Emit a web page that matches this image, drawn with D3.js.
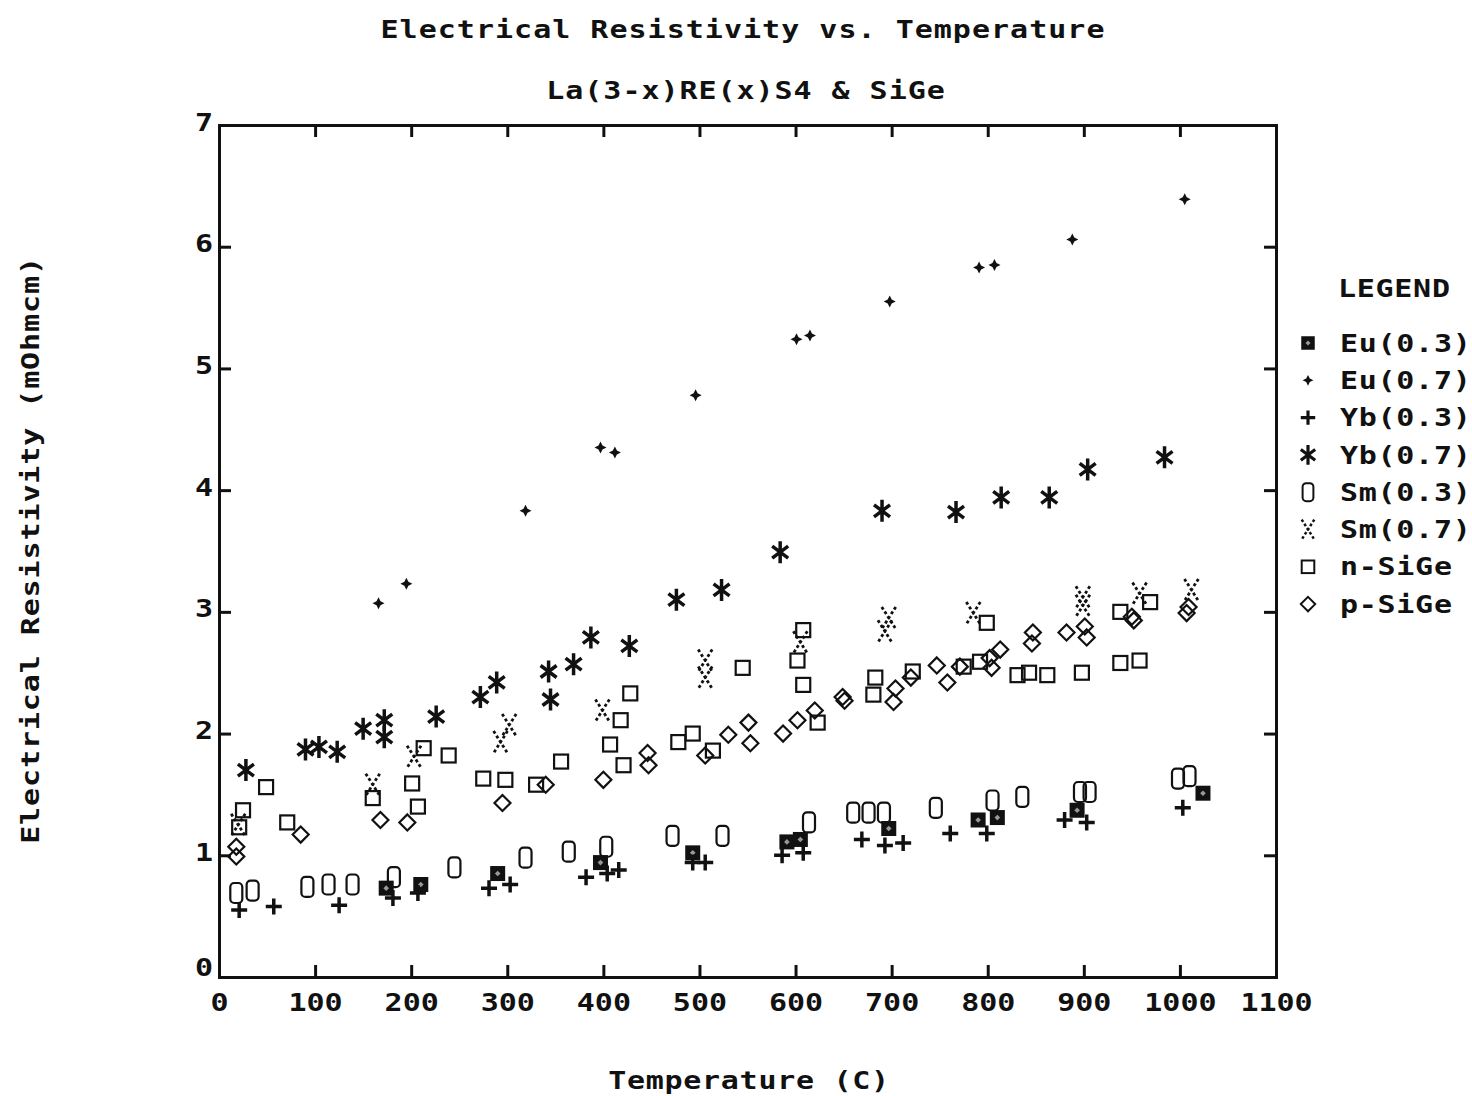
<!DOCTYPE html>
<html>
<head>
<meta charset="utf-8">
<script src="https://cdn.jsdelivr.net/npm/d3@7"></script>
<style>
  body { margin: 0; background: #fff; }
  text { font-family: "DejaVu Sans Mono", monospace; font-weight: bold; fill: #111; }
</style>
</head>
<body>
<div id="container"></div>
<script>
// readings: [temperature C, resistivity mOhm cm]
const eu03 = [[174,0.73],[210,0.76],[290,0.85],[397,0.94],[493,1.02],[591,1.11],[605,1.13],[697,1.22],[790,1.29],[810,1.31],[893,1.37],[1024,1.51]];
const eu07 = [[166,3.07],[195,3.23],[319,3.83],[397,4.35],[412,4.31],[496,4.78],[601,5.24],[615,5.27],[698,5.55],[791,5.83],[807,5.85],[888,6.06],[1005,6.39]];
const yb03 = [[21,0.55],[57,0.58],[125,0.59],[181,0.65],[207,0.69],[281,0.73],[303,0.76],[382,0.82],[404,0.85],[416,0.88],[493,0.94],[506,0.94],[586,1.00],[608,1.02],[669,1.13],[693,1.08],[712,1.10],[761,1.18],[799,1.18],[880,1.29],[903,1.27],[1003,1.39]];
const yb07 = [[28,1.70],[90,1.87],[104,1.89],[123,1.85],[150,2.04],[172,2.11],[172,1.97],[226,2.14],[272,2.30],[289,2.42],[343,2.51],[345,2.28],[369,2.57],[387,2.79],[427,2.72],[476,3.10],[523,3.18],[584,3.49],[690,3.83],[767,3.82],[814,3.94],[864,3.94],[904,4.17],[984,4.27]];
const sm03 = [[18,0.69],[35,0.71],[92,0.74],[114,0.76],[139,0.76],[182,0.82],[245,0.90],[319,0.98],[364,1.03],[403,1.07],[472,1.16],[524,1.16],[614,1.27],[660,1.35],[676,1.35],[692,1.35],[746,1.39],[805,1.45],[836,1.48],[896,1.52],[906,1.52],[998,1.63],[1010,1.65]];
const sm07 = [[20,1.25],[160,1.58],[203,1.81],[293,1.93],[302,2.07],[399,2.19],[506,2.60],[506,2.46],[605,2.75],[693,2.84],[697,2.95],[785,2.99],[899,3.12],[899,3.05],[958,3.15],[1012,3.18]];
const nSiGe = [[25,1.37],[21,1.23],[49,1.56],[71,1.27],[160,1.47],[201,1.59],[207,1.40],[213,1.88],[239,1.82],[275,1.63],[298,1.62],[330,1.58],[356,1.77],[407,1.91],[418,2.11],[428,2.33],[421,1.74],[478,1.93],[493,2.00],[514,1.86],[545,2.54],[602,2.60],[608,2.85],[608,2.40],[623,2.09],[681,2.32],[683,2.46],[722,2.51],[775,2.55],[792,2.59],[799,2.91],[831,2.48],[843,2.50],[862,2.48],[898,2.50],[938,2.58],[958,2.60],[938,3.00],[969,3.08]];
const pSiGe = [[18,1.07],[18,0.99],[85,1.17],[168,1.29],[196,1.27],[295,1.43],[340,1.58],[400,1.62],[446,1.84],[447,1.74],[506,1.82],[530,1.99],[551,2.09],[553,1.92],[587,2.00],[602,2.11],[620,2.19],[649,2.30],[651,2.27],[702,2.26],[704,2.37],[720,2.46],[747,2.56],[758,2.42],[771,2.55],[802,2.62],[804,2.54],[813,2.69],[846,2.74],[847,2.83],[882,2.83],[901,2.88],[903,2.79],[950,2.96],[952,2.93],[1007,2.99],[1009,3.04]];

const legendNames = ["Eu(0.3)", "Eu(0.7)", "Yb(0.3)", "Yb(0.7)", "Sm(0.3)", "Sm(0.7)", "n-SiGe", "p-SiGe"];
const xTicks = [0,100,200,300,400,500,600,700,800,900,1000,1100];
const yTicks = [0,1,2,3,4,5,6,7];

const w = 1472, h = 1096;
const x = d3.scaleLinear().domain([0, 1100]).range([219, 1276]);
const y = d3.scaleLinear().domain([0, 7]).range([977, 125]);

const svg = d3.select("#container").append("svg")
  .attr("width", w).attr("height", h)
  .style("background", "#fff");

const ink = "#111";
const wide = "scale(1.2,1)"; // plotter font is wider than DejaVu

// marker drawers, each appends into a g centred at 0,0
const markers = {
  "Eu(0.3)": g => {
    g.append("rect").attr("x", -7.5).attr("y", -7.5).attr("width", 15).attr("height", 15).attr("fill", ink);
    g.append("rect").attr("x", -2).attr("y", -2).attr("width", 4).attr("height", 4).attr("fill", "#999").attr("transform", "rotate(45)");
  },
  "Eu(0.7)": g => {
    g.append("path").attr("d", "M0,-6L2,-2L6,0L2,2L0,6L-2,2L-6,0L-2,-2Z").attr("fill", ink);
  },
  "Yb(0.3)": g => {
    g.append("path").attr("d", "M-8,0H8M0,-8V8").attr("stroke", ink).attr("stroke-width", 3.5);
  },
  "Yb(0.7)": g => {
    g.append("path").attr("d", "M0,-11V11M-8,-6L8,6M8,-6L-8,6").attr("stroke", ink).attr("stroke-width", 3.5);
  },
  "Sm(0.3)": g => {
    g.append("rect").attr("x", -6).attr("y", -10).attr("width", 12).attr("height", 20).attr("rx", 4)
      .attr("fill", "none").attr("stroke", ink).attr("stroke-width", 2.2);
  },
  "Sm(0.7)": g => {
    g.append("path").attr("d", "M-7,-11L7,11M7,-11L-7,11").attr("stroke", ink)
      .attr("stroke-width", 2.8).attr("stroke-dasharray", "3,2.5").attr("fill", "none");
  },
  "n-SiGe": g => {
    g.append("rect").attr("x", -7).attr("y", -7).attr("width", 14).attr("height", 14)
      .attr("fill", "none").attr("stroke", ink).attr("stroke-width", 2.2);
  },
  "p-SiGe": g => {
    g.append("path").attr("d", "M0,-8L8,0L0,8L-8,0Z")
      .attr("fill", "none").attr("stroke", ink).attr("stroke-width", 2.2);
  }
};

const series = [eu03, eu07, yb03, yb07, sm03, sm07, nSiGe, pSiGe];

// axes: frame with inward ticks on all sides
const axBottom = svg.append("g").attr("transform", `translate(0,${y(0)})`)
  .call(d3.axisBottom(x).tickValues(xTicks).tickSize(-12).tickPadding(16).tickFormat(d3.format("d")));
const axTop = svg.append("g").attr("transform", `translate(0,${y(7)})`)
  .call(d3.axisTop(x).tickValues(xTicks).tickSize(-12).tickFormat(""));
const axLeft = svg.append("g").attr("transform", `translate(${x(0)},0)`)
  .call(d3.axisLeft(y).tickValues(yTicks).tickSize(-12).tickPadding(5).tickFormat(d3.format("d")));
const axRight = svg.append("g").attr("transform", `translate(${x(1100)},0)`)
  .call(d3.axisRight(y).tickValues(yTicks).tickSize(-12).tickFormat(""));

[axBottom, axTop, axLeft, axRight].forEach(a => {
  a.select(".domain").attr("stroke", ink).attr("stroke-width", 3);
  a.selectAll(".tick line").attr("stroke", ink).attr("stroke-width", 3);
  a.selectAll("text").style("font-size", "25px").attr("fill", ink)
    .style("letter-spacing", "0px").attr("transform", wide);
});
axLeft.selectAll(".tick text").attr("dy", "0.2em");
axLeft.selectAll(".tick").filter(d => d === 0).select("text").attr("dy", "-0.05em");

// points
series.forEach((data, i) => {
  const draw = markers[legendNames[i]];
  svg.append("g").selectAll("g")
    .data(data).enter().append("g")
    .attr("transform", d => `translate(${x(d[0])},${y(d[1])})`)
    .each(function () { draw(d3.select(this)); });
});

// titles
const label = (t, px, py, rot, anchor, ls) => {
  return svg.append("text").attr("x", 0).attr("y", 0)
    .attr("transform", `translate(${px},${py}) rotate(${rot || 0}) ${wide}`)
    .attr("text-anchor", anchor || "middle").attr("dominant-baseline", "central")
    .style("font-size", "25px").style("letter-spacing", (ls || 0.6) + "px").text(t);
};
label("Electrical Resistivity vs. Temperature", 743, 29, 0, "middle", 0.85);
label("La(3-x)RE(x)S4 & SiGe", 746, 90, 0, "middle", 0.8);
label("Temperature (C)", 749, 1080);
label("Electrical Resistivity (mOhmcm)", 30, 550, -90, "middle", 0.75);

// legend
label("LEGEND", 1338, 288, 0, "start");
const lg = svg.append("g").selectAll("g").data(legendNames).enter().append("g")
  .attr("transform", (d, i) => `translate(1308,${343 + i * 37.3})`);
lg.each(function (d, i) {
  const g = d3.select(this);
  const m = g.append("g").attr("transform", "scale(0.9)");
  markers[d](m);
  label(d, 1340, 343 + i * 37.3, 0, "start");
});
</script>
</body>
</html>
